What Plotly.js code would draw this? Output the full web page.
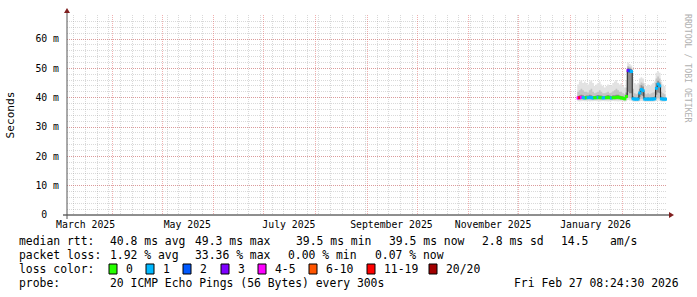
<!DOCTYPE html>
<html><head><meta charset="utf-8">
<script src="https://cdn.plot.ly/plotly-3.0.1.min.js"></script>
<style>html,body{margin:0;padding:0;background:#fff;}#chart{width:697px;height:297px;}</style>
</head><body><div id="chart"></div>
<script>
// ---------- data ----------
const rangeStart = '2025-03-04 20:24:30';
const rangeEnd = '2026-02-27 20:24:30';
const labelDates = ['2025-03-16', '2025-05-16', '2025-07-16', '2025-09-15 12:00', '2025-11-15 12:00', '2026-01-16'];
const labelTexts = ['March 2025', 'May 2025', 'July 2025', 'September 2025', 'November 2025', 'January 2026'];
const yTickVals = [0, 10, 20, 30, 40, 50, 60];
const yTickText = ['0\u00a0\u00a0', '10 m', '20 m', '30 m', '40 m', '50 m', '60 m'];

const dates = ['2026-01-05','2026-01-06','2026-01-07','2026-01-08','2026-01-09','2026-01-10','2026-01-11','2026-01-12','2026-01-13','2026-01-14',
 '2026-01-15','2026-01-16','2026-01-17','2026-01-18','2026-01-19','2026-01-20','2026-01-21','2026-01-22','2026-01-23','2026-01-24',
 '2026-01-25','2026-01-26','2026-01-27','2026-01-28','2026-01-29','2026-01-30','2026-01-31','2026-02-01','2026-02-02','2026-02-03',
 '2026-02-04','2026-02-05','2026-02-06','2026-02-07','2026-02-08','2026-02-09','2026-02-10','2026-02-11','2026-02-12','2026-02-13',
 '2026-02-14','2026-02-15','2026-02-16','2026-02-17','2026-02-18','2026-02-19','2026-02-20','2026-02-21','2026-02-22','2026-02-23',
 '2026-02-24','2026-02-25','2026-02-26','2026-02-27'];
// median rtt (ms)
const median = [39.9,40.0,40.1,40.0,39.9,40.0,40.0,40.1,40.0,39.9,40.0,40.0,40.1,40.0,40.0,39.9,40.0,40.0,40.1,40.0,39.9,40.0,40.0,40.1,40.2,40.0,39.9,
 39.8,39.6,40.4,49.3,49.1,48.9,39.6,39.5,39.5,39.5,41.6,42.8,42.4,39.5,39.5,39.5,39.5,39.5,39.5,39.6,43.2,44.6,44.0,39.6,39.5,39.5,39.5];
// lost pings out of 20
const loss = [5,12,5,1,1,0,1,1,1,1,0,0,1,0,0,1,1,0,0,0,1,0,0,0,0,0,0,
 0,0,0,3,2,1,1,1,1,1,1,1,1,1,1,1,1,1,1,1,1,1,1,1,1,1,1];
// smoke (ms): outer, middle and inner ping ranges
const smokeMin = [38.8,38.7,38.8,38.9,38.8,38.8,38.9,38.7,38.8,38.8,38.9,38.8,38.8,38.7,38.8,38.9,38.8,38.8,38.7,38.8,38.8,38.9,38.8,38.8,38.7,38.8,38.8,
 38.8,38.6,38.8,39.2,39.0,39.0,38.7,38.6,38.6,38.6,38.8,38.9,38.8,38.6,38.6,38.6,38.6,38.6,38.6,38.7,38.9,39.0,38.9,38.6,38.6,38.6,38.6];
const smokeMax = [44.5,45.5,46.0,45.0,45.5,45.0,44.5,45.5,46.0,45.0,44.0,44.5,45.0,45.5,44.5,44.0,43.5,44.0,44.5,44.0,44.0,45.0,45.5,46.0,45.0,44.5,45.0,
 44.0,43.5,46.0,52.0,51.5,51.0,46.5,45.0,44.5,45.0,46.5,47.0,46.5,45.0,44.0,44.5,44.0,44.5,45.0,45.5,48.5,49.0,48.5,45.5,44.5,44.0,43.5];
const smokeMidLo = [39.3,39.3,39.4,39.3,39.3,39.3,39.4,39.3,39.3,39.3,39.4,39.3,39.3,39.3,39.3,39.4,39.3,39.3,39.3,39.3,39.3,39.4,39.3,39.3,39.3,39.3,39.3,
 39.2,39.1,39.4,40.0,39.8,39.8,39.2,39.1,39.1,39.1,39.5,39.6,39.5,39.1,39.1,39.1,39.1,39.1,39.1,39.2,39.6,39.8,39.6,39.1,39.1,39.1,39.1];
const smokeMidHi = [42.0,42.5,43.0,42.5,42.0,42.0,41.8,42.5,43.0,42.0,41.5,41.8,42.0,42.5,42.0,41.5,41.5,41.8,42.0,41.5,41.8,42.2,42.5,43.0,42.5,42.0,42.0,
 41.5,41.2,43.5,50.8,50.5,50.2,43.0,41.5,41.2,41.5,44.5,45.2,44.8,41.5,41.2,41.5,41.2,41.5,41.8,42.0,46.5,47.2,46.5,42.0,41.5,41.2,41.0];
const smokeInLo = [39.6,39.7,39.8,39.7,39.6,39.7,39.7,39.8,39.7,39.6,39.7,39.7,39.8,39.7,39.7,39.6,39.7,39.7,39.8,39.7,39.6,39.7,39.7,39.8,39.9,39.7,39.6,
 39.5,39.3,39.9,42.0,41.5,41.5,39.3,39.2,39.2,39.2,40.2,40.8,40.6,39.2,39.2,39.2,39.2,39.2,39.2,39.3,41.0,41.8,41.5,39.3,39.2,39.2,39.2];
const smokeInHi = [40.6,40.8,41.0,40.8,40.6,40.7,40.7,41.0,40.8,40.6,40.6,40.7,40.9,40.8,40.7,40.5,40.6,40.7,40.9,40.7,40.6,40.8,40.8,41.0,41.0,40.7,40.6,
 40.4,40.2,41.8,50.2,50.0,49.8,40.5,40.1,40.0,40.2,43.0,44.2,43.8,40.1,40.0,40.1,40.0,40.1,40.2,40.4,45.0,45.8,45.2,40.4,40.1,40.0,40.0];

const lossBins = [
  {max: 0, label: '0', color: '#26ff00'},
  {max: 1, label: '1', color: '#00b8ff'},
  {max: 2, label: '2', color: '#0059ff'},
  {max: 3, label: '3', color: '#7e00ff'},
  {max: 5, label: '4-5', color: '#ff00ff'},
  {max: 10, label: '6-10', color: '#ff5500'},
  {max: 19, label: '11-19', color: '#ff0000'},
  {max: 20, label: '20/20', color: '#a10000'}
];
const statsRtt = ['40.8 ms avg', '49.3 ms max', '39.5 ms min', '39.5 ms now', '2.8 ms sd', '14.5', 'am/s'];
const statsLoss = ['1.92 % avg', '33.36 % max', '0.00 % min', '0.07 % now'];
const probeText = '20 ICMP Echo Pings (56 Bytes) every 300s';
const stampText = 'Fri Feb 27 08:24:30 2026';
const watermark = 'RRDTOOL / TOBI OETIKER';

// ---------- geometry helpers (pixel -> paper) ----------
const L = 67, R = 667, T = 15, B = 215;
const px = x => (x - L) / (R - L);
const py = y => (B - y) / (B - T);
const FONT = 'DejaVu Sans Mono';

function lossColor(n) { for (const b of lossBins) if (n <= b.max) return b.color; return lossBins[lossBins.length-1].color; }

const traces = [];
function band(lo, hi, color) {
  traces.push({x: dates, y: lo, type: 'scatter', mode: 'lines', line: {width: 0, shape: 'hv'}, hoverinfo: 'skip', showlegend: false});
  traces.push({x: dates, y: hi, type: 'scatter', mode: 'lines', line: {width: 0, shape: 'hv'}, fill: 'tonexty', fillcolor: color, hoverinfo: 'skip', showlegend: false});
}
band(smokeMin, smokeMax, '#e2e2e2');
band(smokeMidLo, smokeMidHi, '#c4c4c4');
band(smokeInLo, smokeInHi, '#8e8e8e');
traces.push({x: dates, y: median, type: 'scatter', mode: 'lines', line: {width: 1, color: '#202020', shape: 'hv'}, hoverinfo: 'skip', showlegend: false});
const midDates = dates.map(d => new Date(new Date(d + 'T00:00:00Z').getTime() + 12*3600e3).toISOString().slice(0,19).replace('T',' '));
traces.push({x: midDates, y: median, type: 'scatter', mode: 'markers',
  marker: {symbol: 'square', size: 3, color: loss.map(lossColor), line: {width: 0}}, hoverinfo: 'skip', showlegend: false});
// helper trace so the grid axis is drawn
traces.push({x: [rangeStart], y: [-100], xaxis: 'x2', yaxis: 'y', type: 'scatter', mode: 'markers', marker: {opacity: 0}, hoverinfo: 'skip', showlegend: false});

const gridGray = 'rgba(143,143,143,0.34)';
const gridRed = 'rgba(222,79,79,0.45)';
const annotations = [];
function txt(t, x, y, opts) {
  annotations.push(Object.assign({text: t, xref: 'paper', yref: 'paper', x: px(x), y: py(y), xanchor: 'left', yanchor: 'middle',
    showarrow: false, font: {family: FONT, size: 11.4, color: '#000'}}, opts || {}));
}
txt('median rtt:', 16.5, 241);
const rttX = [108, 192.5, 294, 386.5, 480, 558.5, 607.5];
statsRtt.forEach((s, i) => txt(s, rttX[i], 241));
txt('packet loss:', 16.5, 255);
const lossX = [108, 193, 286, 373];
statsLoss.forEach((s, i) => txt(s, lossX[i], 255));
txt('loss color:', 16.5, 269);
const sqX = [109, 146, 183, 221, 258, 309, 367, 429];
const shapes = [];
lossBins.forEach((b, i) => {
  shapes.push({type: 'rect', xref: 'paper', yref: 'paper', x0: px(sqX[i]), x1: px(sqX[i] + 8), y0: py(274), y1: py(264),
    fillcolor: b.color, line: {color: '#000', width: 1}});
  txt(b.label, sqX[i] + 15, 269);
});
txt('probe:', 16.5, 283);
txt(probeText, 108, 283);
txt(stampText, 681, 283, {xanchor: 'right'});
annotations.push({text: watermark, xref: 'paper', yref: 'paper', x: px(688), y: py(68), textangle: 90, showarrow: false,
  xanchor: 'center', yanchor: 'middle', font: {family: FONT, size: 8.2, color: '#b0b0b0'}});

// axis lines and arrows (decoration)
const axisCol = '#1f1f1f', arrowCol = '#801f1f';
shapes.push({type: 'line', xref: 'paper', yref: 'paper', x0: px(63), x1: px(669), y0: py(215), y1: py(215), line: {color: axisCol, width: 1}});
shapes.push({type: 'line', xref: 'paper', yref: 'paper', x0: px(67), x1: px(67), y0: py(219), y1: py(11), line: {color: '#555', width: 1}});
shapes.push({type: 'path', xref: 'paper', yref: 'paper', fillcolor: arrowCol, line: {width: 0},
  path: `M${px(669)},${py(212)} L${px(674)},${py(215)} L${px(669)},${py(218)} Z`});
shapes.push({type: 'path', xref: 'paper', yref: 'paper', fillcolor: arrowCol, line: {width: 0},
  path: `M${px(64)},${py(13)} L${px(67)},${py(8)} L${px(70)},${py(13)} Z`});

const layout = {
  width: 697, height: 297,
  margin: {l: L, r: 697 - R, t: T, b: 297 - B, pad: 0},
  paper_bgcolor: '#ffffff', plot_bgcolor: '#ffffff',
  showlegend: false,
  xaxis: {type: 'date', range: [rangeStart, rangeEnd], tickmode: 'array', tickvals: labelDates, ticktext: labelTexts,
    showgrid: false, zeroline: false, showline: false, ticks: '', fixedrange: true,
    tickfont: {family: FONT, size: 9.8, color: '#000'}, ticklabelstandoff: 2},
  xaxis2: {type: 'date', overlaying: 'x', anchor: 'y', range: [rangeStart, rangeEnd], tickmode: 'linear', tick0: '2025-01-01', dtick: 'M1',
    showgrid: true, gridcolor: gridRed, griddash: '1px,1px', gridwidth: 1, showticklabels: false, ticks: '', zeroline: false, showline: false,
    minor: {tick0: '2025-03-09', dtick: 7*86400000, showgrid: true, gridcolor: gridGray, griddash: '1px,1px', gridwidth: 1, ticks: ''}},
  yaxis: {range: [0, 68.18], tickmode: 'array', tickvals: yTickVals, ticktext: yTickText, showgrid: true, gridcolor: gridRed,
    griddash: '1px,1px', gridwidth: 1, zeroline: false, showline: false, ticks: '', fixedrange: true,
    minor: {dtick: 2, tick0: 0, showgrid: true, gridcolor: gridGray, griddash: '1px,1px', gridwidth: 1, ticks: ''},
    tickfont: {family: FONT, size: 9.8, color: '#000'}, ticklabelstandoff: 7,
    title: {text: 'Seconds', font: {family: FONT, size: 11.1, color: '#000'}, standoff: 18}},
  shapes: shapes,
  annotations: annotations
};
Plotly.newPlot('chart', traces, layout, {displayModeBar: false, staticPlot: true});
</script></body></html>
